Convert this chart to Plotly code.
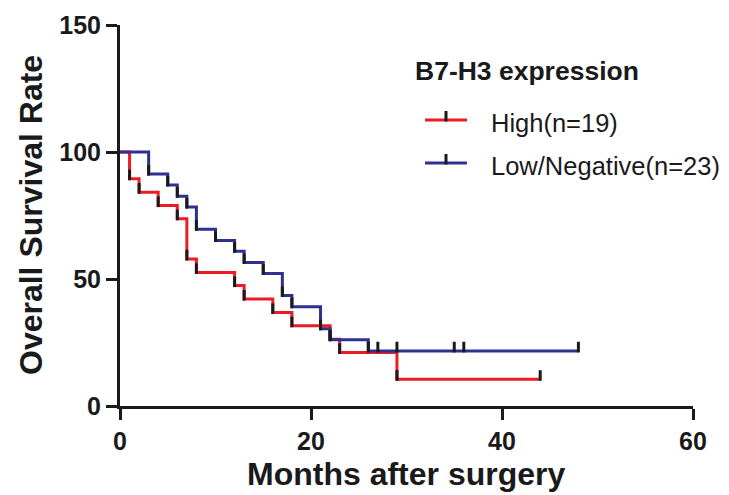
import plotly.graph_objects as go

# High (n=19) Kaplan-Meier steps (months, % survival)
high_t = [0, 1, 2, 4, 6, 7, 8, 12, 13, 16, 18, 22, 23, 29, 44]
high_s = [100, 89.5, 84.2, 78.9, 73.7, 57.9, 52.6, 47.4, 42.1, 36.8, 31.6, 26.3, 21.1, 10.5, 10.5]
high_event_t = [1, 2, 4, 6, 7, 8, 12, 13, 16, 18, 22, 23, 29]
high_event_s = [89.5, 84.2, 78.9, 73.7, 57.9, 52.6, 47.4, 42.1, 36.8, 31.6, 26.3, 21.1, 10.5]
high_cens_t = [44]
high_cens_s = [10.5]

# Low/Negative (n=23)
low_t = [0, 3, 5, 6, 7, 8, 10, 12, 13, 15, 17, 18, 21, 22, 26, 48]
low_s = [100, 91.3, 87.0, 82.6, 78.3, 69.6, 65.2, 60.9, 56.5, 52.2, 43.5, 39.1, 30.4, 26.1, 21.7, 21.7]
low_event_t = [3, 5, 6, 7, 8, 10, 12, 13, 15, 17, 18, 21, 22, 26]
low_event_s = [91.3, 87.0, 82.6, 78.3, 69.6, 65.2, 60.9, 56.5, 52.2, 43.5, 39.1, 30.4, 26.1, 21.7]
low_cens_t = [27, 29, 35, 36, 48]
low_cens_s = [21.7, 21.7, 21.7, 21.7, 21.7]

x_ticks = [0, 20, 40, 60]
y_ticks = [0, 50, 100, 150]

RED = "#ED1C24"
BLUE = "#2E3192"
INK = "#1a1a1a"
FONT = "Arial, Liberation Sans, Helvetica, sans-serif"

fig = go.Figure()

fig.add_trace(go.Scatter(x=high_t, y=high_s, mode="lines", line=dict(color=RED, width=3, shape="hv"),
                         showlegend=False, hoverinfo="skip"))
fig.add_trace(go.Scatter(x=low_t, y=low_s, mode="lines", line=dict(color=BLUE, width=3, shape="hv"),
                         showlegend=False, hoverinfo="skip"))

# black tick marks (events and censored), rising from the curve level
tx, ty = [], []
for ts, ss in [(high_event_t, high_event_s), (high_cens_t, high_cens_s),
               (low_event_t, low_event_s), (low_cens_t, low_cens_s)]:
    for t, s in zip(ts, ss):
        tx += [t, t, None]
        ty += [s - 0.6, s + 3.6, None]
fig.add_trace(go.Scatter(x=tx, y=ty, mode="lines", line=dict(color=INK, width=3),
                         showlegend=False, hoverinfo="skip"))

# plot area geometry (pixels)
L, R, T, B = 120, 693, 25, 406
W, H = 729, 495
def px(x):
    return (x - L) / (R - L)
def py(y):
    return (B - y) / (B - T)

shapes = []
annotations = []
annotations.append(dict(x=px(413), y=py(70.5), xref="paper", yref="paper", xanchor="left", yanchor="middle",
                        text="<b>B7-H3 expression</b>", showarrow=False,
                        font=dict(family=FONT, size=26.5, color=INK)))
for label, col, yl, yt in [("High(n=19)", RED, 120, 122.5), ("Low/Negative(n=23)", BLUE, 163, 165.5)]:
    shapes.append(dict(type="line", xref="paper", yref="paper", x0=px(425), x1=px(467), y0=py(yl), y1=py(yl),
                       line=dict(color=col, width=3)))
    shapes.append(dict(type="line", xref="paper", yref="paper", x0=px(446), x1=px(446), y0=py(yl + 1.5), y1=py(yl - 9),
                       line=dict(color=INK, width=3)))
    annotations.append(dict(x=px(489), y=py(yt), xref="paper", yref="paper", xanchor="left", yanchor="middle",
                            text=label, showarrow=False, font=dict(family=FONT, size=25.5, color=INK)))

# axis titles
annotations.append(dict(x=px(406), y=py(494), xref="paper", yref="paper", xanchor="center", yanchor="bottom",
                        text="<b>Months after surgery</b>", showarrow=False,
                        font=dict(family=FONT, size=32, color=INK)))
annotations.append(dict(x=px(31), y=py(215), xref="paper", yref="paper", xanchor="center", yanchor="middle",
                        text="<b>Overall Survival Rate</b>", showarrow=False, textangle=-90,
                        font=dict(family=FONT, size=32, color=INK)))

fig.update_layout(
    width=W, height=H,
    margin=dict(l=L, r=W - R, t=T, b=H - B, autoexpand=False),
    paper_bgcolor="white", plot_bgcolor="white",
    shapes=shapes, annotations=annotations,
    font=dict(family=FONT, color=INK),
    showlegend=False,
)
fig.update_xaxes(range=[0, 60], tickvals=x_ticks, showgrid=False, zeroline=False, automargin=False,
                 showline=True, linecolor=INK, linewidth=3,
                 ticks="outside", ticklen=11, tickwidth=3, tickcolor=INK,
                 tickfont=dict(family=FONT, size=25, weight="bold", color=INK))
fig.update_yaxes(range=[0, 150], tickvals=y_ticks, showgrid=False, zeroline=False, automargin=False,
                 showline=True, linecolor=INK, linewidth=3,
                 ticks="outside", ticklen=11, tickwidth=3, tickcolor=INK,
                 tickfont=dict(family=FONT, size=25, weight="bold", color=INK))

fig.write_html("out.html", config={"displayModeBar": False},
               post_script="document.body.style.margin='0';document.body.style.overflow='hidden';")
